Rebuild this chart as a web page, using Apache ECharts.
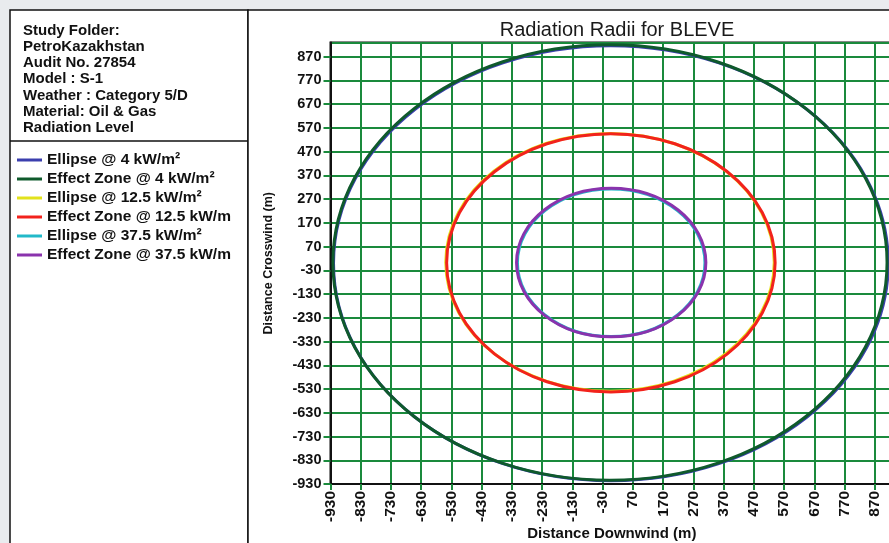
<!DOCTYPE html>
<html>
<head>
<meta charset="utf-8">
<script src="https://cdn.jsdelivr.net/npm/echarts@6/dist/echarts.min.js"></script>
<style>
  html, body { margin: 0; padding: 0; background: #e9ebee; }
  #chart { width: 889px; height: 543px; }
</style>
</head>
<body>
<div id="chart"></div>
<script>
// Study description shown in the upper side panel
const studyLines = [
  'Study Folder:',
  'PetroKazakhstan',
  'Audit No. 27854',
  'Model : S-1',
  'Weather : Category 5/D',
  'Material: Oil & Gas',
  'Radiation Level'
];

// Radiation contours: one entry per zone
const zoneNames = [
  'Ellipse @ 4 kW/m²',
  'Effect Zone @ 4 kW/m²',
  'Ellipse @ 12.5 kW/m²',
  'Effect Zone @ 12.5 kW/m',
  'Ellipse @ 37.5 kW/m²',
  'Effect Zone @ 37.5 kW/m'
];
const zoneColors = ['#3b3fae', '#0f5a2c', '#e2e21c', '#f2221c', '#22b9c9', '#8a33ad'];
// contour centre (m) and radii (m) downwind / crosswind
const centerX = [-3, -6, -6, -3, -2, -2];
const centerY = [0, 3, 4, 2, 2, 3];
const radiusX = [917, 916, 543, 543, 310, 313];
const radiusY = [916, 917, 543, 544, 311, 313];

// Axis ticks
const axisMin = -930;
const axisMax = 930;
const tickStep = 100;

const chart = echarts.init(document.getElementById('chart'));

const fontFamily = '"Liberation Sans", Arial, sans-serif';
const gridGreen = '#1a8a3c';

const panelText = studyLines.map((t, i) => ({
  type: 'text',
  left: 23,
  top: 23.5 + i * 16.1,
  z: 5,
  style: { text: t, fill: '#111', font: 'bold 15px ' + fontFamily }
}));

const series = zoneNames.map((name, i) => ({
  name: name,
  type: 'custom',
  coordinateSystem: 'cartesian2d',
  encode: { x: 0, y: 1 },
  itemStyle: { color: zoneColors[i] },
  clip: true,
  z: 3 + i,
  data: [[centerX[i], centerY[i], radiusX[i], radiusY[i]]],
  renderItem: function (params, api) {
    const c = api.coord([api.value(0), api.value(1)]);
    const s = api.size([api.value(2), api.value(3)]);
    return {
      type: 'ellipse',
      shape: { cx: c[0], cy: c[1], rx: s[0], ry: s[1] },
      style: { fill: null, stroke: zoneColors[i], lineWidth: 3 }
    };
  }
}));

const option = {
  backgroundColor: '#e9ebee',
  animation: false,
  title: {
    text: 'Radiation Radii for BLEVE',
    left: 612,
    textAlign: 'center',
    top: 15,
    textStyle: { fontFamily: fontFamily, fontSize: 20, fontWeight: 'normal', color: '#1a1a1a' }
  },
  graphic: [
    {
      type: 'rect', z: -1, silent: true,
      shape: { x: 10, y: 10, width: 238, height: 560 },
      style: { fill: '#ffffff', stroke: '#111', lineWidth: 1.5 }
    },
    {
      type: 'rect', z: -1, silent: true,
      shape: { x: 248, y: 10, width: 660, height: 560 },
      style: { fill: '#ffffff', stroke: '#111', lineWidth: 1.5 }
    },
    {
      type: 'line', z: 1, silent: true,
      shape: { x1: 10, y1: 141, x2: 248, y2: 141 },
      style: { stroke: '#111', lineWidth: 1.5 }
    }
  ].concat(panelText),
  legend: {
    orient: 'vertical',
    left: 17,
    top: 151,
    padding: 0,
    itemWidth: 25,
    itemHeight: 3,
    itemGap: 1,
    selectedMode: false,
    data: zoneNames.map(n => ({ name: n, icon: 'rect' })),
    textStyle: { fontFamily: fontFamily, fontSize: 15.5, fontWeight: 'bold', color: '#111', lineHeight: 18 }
  },
  grid: {
    left: 330.5,
    top: 42.5,
    width: 562.6,
    height: 441.5,
    containLabel: false,
    outerBoundsMode: 'none',
    show: true,
    backgroundColor: '#ffffff',
    borderColor: '#111',
    borderWidth: 2
  },
  xAxis: {
    type: 'value',
    min: axisMin,
    max: axisMax,
    interval: tickStep,
    name: 'Distance Downwind (m)',
    nameLocation: 'middle',
    nameGap: 42,
    nameMoveOverlap: false,
    nameTextStyle: { fontFamily: fontFamily, fontSize: 15, fontWeight: 'bold', color: '#111' },
    axisLine: { show: true, onZero: false, lineStyle: { color: '#111', width: 2 } },
    axisTick: { show: true, length: 6, lineStyle: { color: gridGreen, width: 2 } },
    axisLabel: {
      rotate: 90,
      margin: 7,
      showMaxLabel: false,
      fontFamily: fontFamily,
      fontSize: 15.5,
      fontWeight: 'bold',
      color: '#111'
    },
    splitLine: { show: true, lineStyle: { color: gridGreen, width: 2 } }
  },
  yAxis: {
    type: 'value',
    min: axisMin,
    max: axisMax,
    interval: tickStep,
    name: 'Distance Crosswind (m)',
    nameLocation: 'middle',
    nameGap: 55,
    nameMoveOverlap: false,
    nameTextStyle: { fontFamily: fontFamily, fontSize: 12.5, fontWeight: 'bold', color: '#111' },
    axisLine: { show: true, onZero: false, lineStyle: { color: '#111', width: 2 } },
    axisTick: { show: true, length: 7, lineStyle: { color: gridGreen, width: 2 } },
    axisLabel: {
      margin: 9,
      showMaxLabel: false,
      fontFamily: fontFamily,
      fontSize: 14.5,
      fontWeight: 'bold',
      color: '#111'
    },
    splitLine: { show: true, lineStyle: { color: gridGreen, width: 2 } }
  },
  series: series
};

chart.setOption(option);
</script>
</body>
</html>
